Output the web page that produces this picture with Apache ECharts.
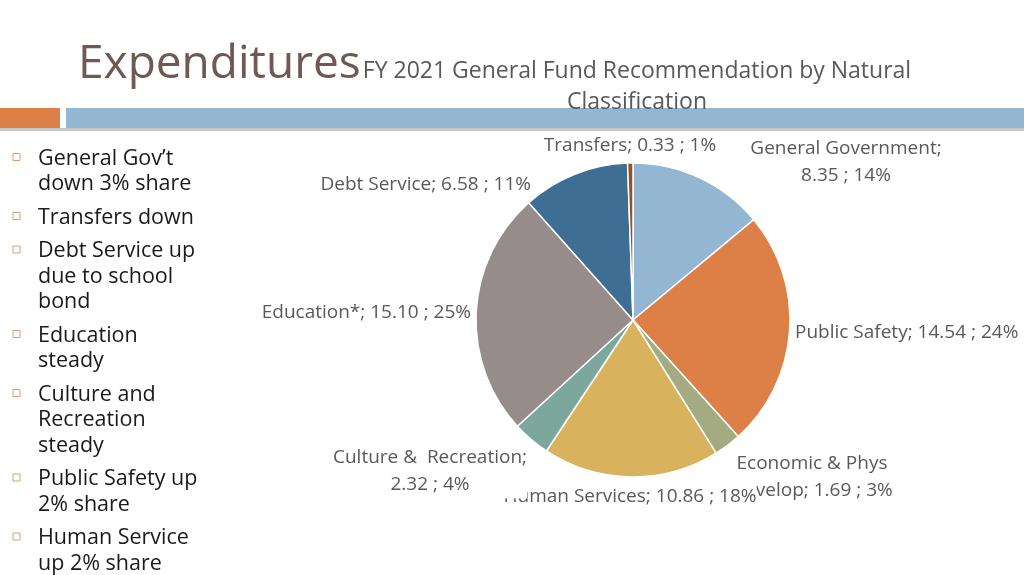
<!DOCTYPE html>
<html><head><meta charset="utf-8">
<script src="https://cdn.jsdelivr.net/npm/echarts@6/dist/echarts.min.js"></script>
<style>html,body{margin:0;padding:0;background:#fff;}#c{width:1024px;height:575px;}</style>
</head><body><div id="c"></div>
<script>
const categories = ['General Government','Public Safety','Economic & Phys Develop','Human Services','Culture &  Recreation','Education*','Debt Service','Transfers'];
const values = [8.35, 14.54, 1.69, 10.86, 2.32, 15.10, 6.58, 0.33];
const percents = ['14%','24%','3%','18%','4%','25%','11%','1%'];
const colors = ['#93B6D2','#DD8047','#A5AB81','#D8B25C','#7BA79D','#968C8C','#3F6E94','#94531E'];
const bullets = [["General Gov\u2019t","down 3% share"],["Transfers down"],["Debt Service up","due to school","bond"],["Education","steady"],["Culture and","Recreation","steady"],["Public Safety up","2% share"],["Human Service","up 2% share"]];
const labelText = {
  'General Government': 'General Government;\n8.35 ; 14%',
  'Economic & Phys Develop': 'Economic & Phys\nDevelop; 1.69 ; 3%',
  'Culture &  Recreation': 'Culture &  Recreation;\n2.32 ; 4%'
};
// label placement (layout only), PowerPoint-style manual positions
const labelPlace = {
  'General Government': {x:846, y:162, align:'center'},
  'Public Safety': {x:795, y:333, align:'left'},
  'Economic & Phys Develop': {x:812, y:477, align:'center'},
  'Human Services': {x:630, y:497, align:'center'},
  'Culture &  Recreation': {x:430, y:471, align:'center'},
  'Education*': {x:471, y:313, align:'right'},
  'Debt Service': {x:531, y:185, align:'right'},
  'Transfers': {x:630, y:146, align:'center'}
};

const chart = echarts.init(document.getElementById('c'), null, {renderer:'canvas'});
const FONT = '"Open Sans", "DejaVu Sans", sans-serif';

const graphics = [
  {type:'text', left:78, top:42, style:{text:'Expenditures', font:'46px '+FONT, fill:'#6E5A52'}},
  {type:'rect', shape:{x:0,y:108,width:60,height:20}, style:{fill:'#DD8047'}},
  {type:'rect', shape:{x:66,y:108,width:958,height:20}, style:{fill:'#93B6D2'}},
  {type:'rect', shape:{x:0,y:128,width:1024,height:3}, style:{fill:'#C8C8C8'}}
];
let y = 147.5;
bullets.forEach(b => {
  graphics.push({type:'rect', shape:{x:13,y:y+6,width:7,height:7}, style:{fill:'none', stroke:'#E09A70', lineWidth:1}});
  b.forEach((line,i) => {
    graphics.push({type:'text', left:38, top:y + i*25.5, style:{text:line, font:'21.5px '+FONT, fill:'#1a1a1a'}});
  });
  y += b.length*25.5 + 8;
});

chart.setOption({
  animation:false,
  color: colors,
  title:{text:'FY 2021 General Fund Recommendation by Natural\nClassification', left:632, top:51, textAlign:'center',
    textStyle:{fontFamily:FONT, fontSize:23, fontWeight:'normal', color:'#595959', lineHeight:31}},
  graphic: graphics,
  series:[{
    type:'pie', center:[633,320], radius:157, startAngle:90, clockwise:true,
    data: categories.map((c,i)=>({name:c, value:values[i]})),
    itemStyle:{borderColor:'#fff', borderWidth:1.5},
    label:{show:true, position:'outside', overflow:'none', fontFamily:FONT, fontSize:19, color:'#595959', lineHeight:27,
      backgroundColor:'#fff', padding:[1,0,0,0],
      formatter: p => labelText[p.name] || (p.name + '; ' + values[p.dataIndex].toFixed(2) + ' ; ' + percents[p.dataIndex])},
    labelLine:{show:false, length:8, length2:0},
    labelLayout: p => {
      const pl = labelPlace[categories[p.dataIndex]];
      return {x:pl.x, y:pl.y, align:pl.align, verticalAlign:'middle'};
    },
    emphasis:{disabled:true}
  }]
});
</script></body></html>
